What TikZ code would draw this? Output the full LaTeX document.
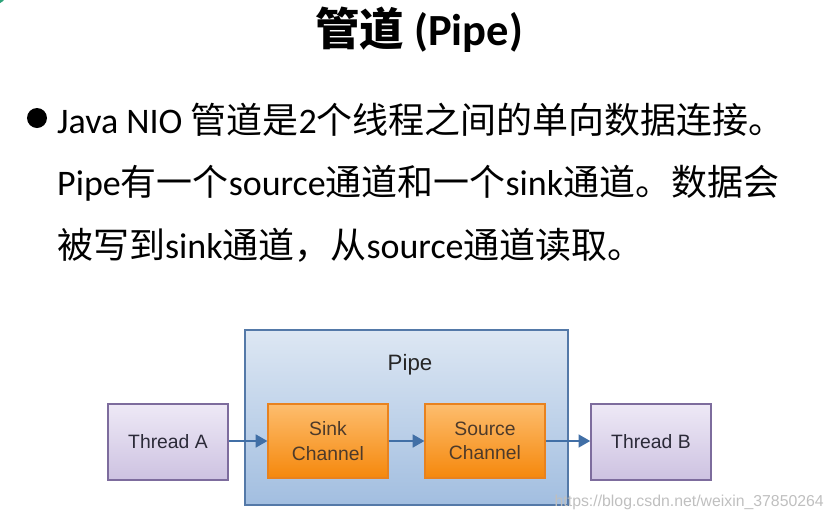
\documentclass[tikz,border=0pt]{standalone}
\usepackage{fontspec}
\setmainfont{Carlito}
\newfontfamily\cjk{Noto Sans CJK SC}
\newfontfamily\diagfont{Liberation Sans}
\usetikzlibrary{arrows.meta, positioning}
\definecolor{pipeline}{HTML}{5479A8}
\definecolor{pipetop}{HTML}{DDE7F3}
\definecolor{pipebot}{HTML}{A2BEE0}
\definecolor{flowblue}{HTML}{416FA6}
\definecolor{chantop}{HTML}{FDBD6E}
\definecolor{chanbot}{HTML}{F5880C}
\definecolor{chanline}{HTML}{E8821E}
\definecolor{chantext}{HTML}{4D3A2A}
\definecolor{thrtop}{HTML}{EEE9F6}
\definecolor{thrbot}{HTML}{CDC2E1}
\definecolor{thrline}{HTML}{7D6C9D}
\definecolor{thrtext}{HTML}{2B2A38}
\definecolor{logogreen}{HTML}{2FA37A}
\newcommand{\zh}[1]{{\cjk #1}}
\tikzset{
  pipebox/.style={rectangle, draw=pipeline, line width=1.6pt,
                  top color=pipetop, bottom color=pipebot,
                  minimum width=9.69cm, minimum height=5.25cm},
  channel/.style={rectangle, draw=chanline, line width=1pt,
                  top color=chantop, bottom color=chanbot,
                  minimum width=3.6cm, minimum height=2.22cm,
                  align=center, text=chantext,
                  font=\diagfont\fontsize{16.5}{21}\selectfont},
  thread/.style={rectangle, draw=thrline, line width=1.3pt,
                 top color=thrtop, bottom color=thrbot,
                 minimum width=3.6cm, minimum height=2.28cm,
                 text=thrtext, font=\diagfont\fontsize{16.5}{19}\selectfont},
  flow/.style={-{Triangle[length=10pt, width=11pt]}, line width=1.7pt,
               draw=flowblue},
  bodyline/.style={anchor=west, inner sep=0pt,
                   font=\fontsize{30.7}{38}\selectfont},
}
\begin{document}
\begin{tikzpicture}[x=0.03cm, y=-0.03cm]
  \useasboundingbox (0,0) rectangle (834,521);
  \fill[logogreen] (-4,-6) circle (0.3cm);

  %% Title and text
  \node[font=\fontsize{38}{46}\selectfont\bfseries] (title) at (419,30)
    {\zh{管道} (Pipe)};
  \node[circle, fill=black, inner sep=0pt, minimum size=0.6cm] (bullet)
    at (37,118) {};
  \node[bodyline] (line1) at (57,120)
    {Java NIO \zh{管道是}2\zh{个线程之间的单向数据连接。}};
  \node[bodyline] (line2) at (57,183)
    {Pipe\zh{有一个}source\zh{通道和一个}sink\zh{通道。数据会}};
  \node[bodyline] (line3) at (57,245)
    {\zh{被写到}sink\zh{通道，从}source\zh{通道读取。}};

  %% Pipe with its two channels
  \node[pipebox] (pipe) at (406.5,417.5) {};
  \node[font=\diagfont\fontsize{19}{22}\selectfont, text=black!85]
    (pipelabel) at (410,365) {Pipe};
  \node[channel] (sink) at (328,441) {Sink\\Channel};
  \node[channel] (source) at (485,441) {Source\\Channel};

  %% Threads
  \node[thread] (threadA) at (168,442) {Thread A};
  \node[thread] (threadB) at (651,442) {Thread B};

  %% Data flow
  \draw[flow] (threadA.east |- sink.west) -- (sink.west);
  \draw[flow] (sink) -- (source);
  \draw[flow] (source.east) -- (threadB.west |- source.east);

  %% Watermark
  \node[anchor=east, text=black!25, inner sep=0pt,
        font=\diagfont\fontsize{13.5}{16}\selectfont] (wm) at (824,502)
    {https://blog.csdn.net/weixin\_37850264};
\end{tikzpicture}
\end{document}
